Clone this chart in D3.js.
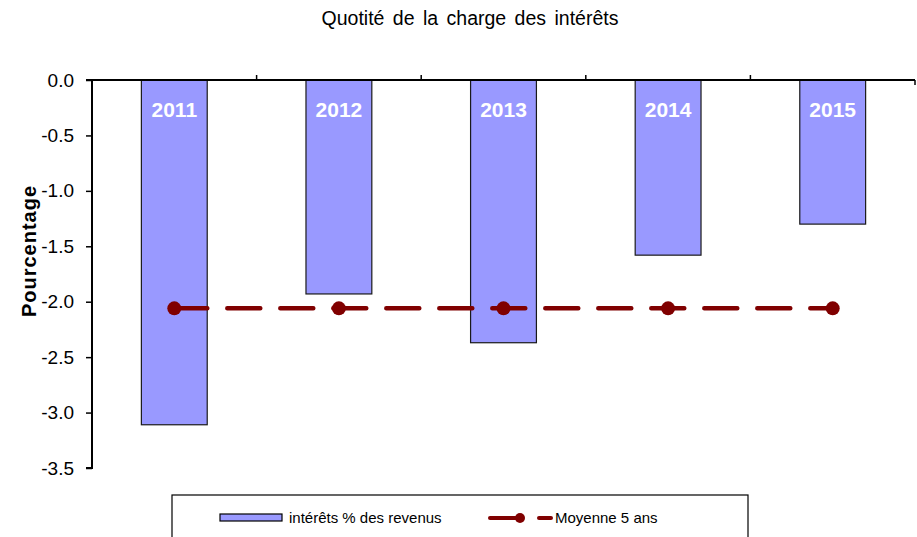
<!DOCTYPE html>
<html>
<head>
<meta charset="utf-8">
<script src="https://cdn.jsdelivr.net/npm/d3@7"></script>
<style>
  html, body { margin: 0; padding: 0; background: #fff; }
  svg { display: block; font-family: "Liberation Sans", Arial, sans-serif; }
</style>
</head>
<body>
<svg id="chart" width="917" height="537"></svg>
<script>
const years = ["2011", "2012", "2013", "2014", "2015"];
const interets = [-3.11, -1.93, -2.37, -1.58, -1.30];
const moyenne = [-2.06, -2.06, -2.06, -2.06, -2.06];
const yTicks = [0.0, -0.5, -1.0, -1.5, -2.0, -2.5, -3.0, -3.5];
const title = "Quotité de la charge des intérêts";
const yTitle = "Pourcentage";
const legendLabels = ["intérêts % des revenus", "Moyenne 5 ans"];

const svg = d3.select("#chart");
const pLeft = 92, pRight = 915, pTop = 80, pBottom = 468;

const x = d3.scaleBand().domain(years).range([pLeft, pRight]).paddingInner(0.6).paddingOuter(0.3);
const y = d3.scaleLinear().domain([0, -3.5]).range([pTop, pBottom]);

// Title
svg.append("text").attr("x", 470).attr("y", 25).attr("text-anchor", "middle")
  .attr("font-size", 19.5).attr("word-spacing", 3).attr("fill", "#000").text(title);

// Bars
svg.append("g").selectAll("rect").data(years).join("rect")
  .attr("x", d => x(d)).attr("y", y(0))
  .attr("width", x.bandwidth())
  .attr("height", (d, i) => y(interets[i]) - y(0))
  .attr("fill", "#9999FF").attr("stroke", "#1a1a1a").attr("stroke-width", 1.2);

// Year labels
svg.append("g").selectAll("text").data(years).join("text")
  .attr("x", d => x(d) + x.bandwidth() / 2).attr("y", 117)
  .attr("text-anchor", "middle").attr("font-size", 21).attr("font-weight", "bold")
  .attr("fill", "#fff").text(d => d);

// Top (category) axis line with boundary ticks
const step = x.step();
const gx = svg.append("g");
gx.append("line").attr("x1", pLeft - 6).attr("x2", pRight).attr("y1", y(0)).attr("y2", y(0))
  .attr("stroke", "#000").attr("stroke-width", 2);
const bounds = d3.range(1, years.length).map(k => pLeft + k * step);
gx.selectAll("line.b").data(bounds).join("line").attr("class", "b")
  .attr("x1", d => d).attr("x2", d => d).attr("y1", y(0)).attr("y2", y(0) - 5)
  .attr("stroke", "#000").attr("stroke-width", 1.5);
gx.append("line").attr("x1", pRight).attr("x2", pRight).attr("y1", y(0)).attr("y2", y(0) + 5)
  .attr("stroke", "#000").attr("stroke-width", 1.5);

// Y axis
const gy = svg.append("g").attr("transform", `translate(${pLeft},0)`)
  .call(d3.axisLeft(y).tickValues(yTicks).tickFormat(d => d.toFixed(1)).tickSize(6).tickPadding(12));
gy.select(".domain").attr("stroke-width", 2).attr("d", `M-6,${pTop}H0V${pBottom}H-6`);
gy.selectAll(".tick line").attr("stroke-width", 1.5);
gy.selectAll(".tick text").attr("font-size", 19).attr("font-family", "Liberation Sans, Arial, sans-serif").attr("fill", "#000");

// Y axis title
svg.append("text").attr("transform", `translate(36,251) rotate(-90)`)
  .attr("text-anchor", "middle").attr("font-size", 20).attr("letter-spacing", 1)
  .attr("font-weight", "bold").text(yTitle);

// Average line
const lineGen = d3.line().x((d, i) => x(years[i]) + x.bandwidth() / 2).y(d => y(d));
svg.append("path").datum(moyenne).attr("d", lineGen)
  .attr("fill", "none").attr("stroke", "#800000").attr("stroke-width", 4.5)
  .attr("stroke-linecap", "round").attr("stroke-dasharray", "33,20");
svg.append("g").selectAll("circle").data(moyenne).join("circle")
  .attr("cx", (d, i) => x(years[i]) + x.bandwidth() / 2).attr("cy", d => y(d))
  .attr("r", 7).attr("fill", "#800000");

// Legend
const lg = svg.append("g");
lg.append("rect").attr("x", 172).attr("y", 495).attr("width", 576).attr("height", 60)
  .attr("fill", "#fff").attr("stroke", "#000").attr("stroke-width", 1.2);
lg.append("rect").attr("x", 220).attr("y", 514).attr("width", 62).attr("height", 7)
  .attr("fill", "#9999FF").attr("stroke", "#000").attr("stroke-width", 1.2);
lg.append("text").attr("x", 289).attr("y", 523).attr("font-size", 15).text(legendLabels[0]);
lg.append("line").attr("x1", 490).attr("x2", 520).attr("y1", 518).attr("y2", 518)
  .attr("stroke", "#800000").attr("stroke-width", 4).attr("stroke-linecap", "round");
lg.append("circle").attr("cx", 520).attr("cy", 518).attr("r", 5).attr("fill", "#800000");
lg.append("line").attr("x1", 539).attr("x2", 551).attr("y1", 518).attr("y2", 518)
  .attr("stroke", "#800000").attr("stroke-width", 4).attr("stroke-linecap", "round");
lg.append("text").attr("x", 555).attr("y", 523).attr("font-size", 15).text(legendLabels[1]);
</script>
</body>
</html>
